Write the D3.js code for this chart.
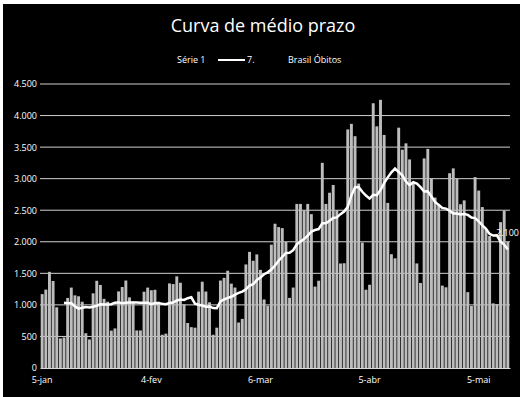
<!DOCTYPE html>
<html>
<head>
<meta charset="utf-8">
<script src="https://cdn.jsdelivr.net/npm/d3@7"></script>
<style>
  body { margin: 0; background: #fff; }
  svg { display: block; }
  text { font-family: 'Open Sans', sans-serif; fill: #fff; }
</style>
</head>
<body>
<svg id="chart"></svg>
<script>
const width = 520;
const height = 397;

// daily deaths, 5-jan .. 13-mai
const jan = [1171,1242,1524,1379,962,469,484,1110,1274,1151,1136,1050,551,452,1183,1382,1316,1096,1050,592,627,1214,1283,1386,1119,1054,595];
const fev = [595,1209,1274,1232,1239,1051,527,544,1340,1330,1452,1351,1009,713,647,639,1210,1367,1212,1041,527,639,1386,1428,1541,1337,1275,721];
const mar = [778,1641,1840,1699,1800,1555,1086,987,1954,2286,2233,2216,1997,1111,1275,2600,2600,2500,2600,2438,1290,1383,3251,2600,2777,2900,2500,1656,1660,3780,3869];
const abr = [3673,2922,1987,1240,1319,4195,3829,4249,3693,2616,1803,1738,3808,3459,3560,3305,2929,1657,1347,3321,3472,3000,2700,2600,1305,1279,3086,3163,3001,2595];
const mai = [2656,1202,983,3025,2811,2550,2202,2091,1024,1011,2311,2494,2000];
const deaths = jan.concat(fev, mar, abr, mai);

const tickDays = [0, 30, 60, 90, 120];
const tickLabels = ['5-jan', '4-fev', '6-mar', '5-abr', '5-mai'];
const yTicks = [0, 500, 1000, 1500, 2000, 2500, 3000, 3500, 4000, 4500];
const period = 7;
const endLabel = '2.100';

const br = d3.formatLocale({decimal: ',', thousands: '.', grouping: [3], currency: ['R$', '']});
const fmt = br.format(',d');

const svg = d3.select('#chart').attr('width', width).attr('height', height);

svg.append('rect')
    .attr('x', 3).attr('y', 4)
    .attr('width', width - 3).attr('height', height - 4)
    .attr('fill', '#000');

const x = d3.scaleBand().domain(d3.range(deaths.length)).range([40, 510]).padding(0.2);
const y = d3.scaleLinear().domain([0, 4500]).range([368, 84]);

// grid
svg.append('g')
    .selectAll('line')
    .data(yTicks.slice(1))
    .enter().append('line')
    .attr('x1', 40).attr('x2', 510)
    .attr('y1', d => y(d)).attr('y2', d => y(d))
    .attr('stroke', '#d0d0d0')
    .attr('stroke-width', 1);

// bars
svg.append('g')
    .selectAll('rect')
    .data(deaths)
    .enter().append('rect')
    .attr('x', (d, i) => x(i))
    .attr('width', x.bandwidth())
    .attr('y', d => y(d))
    .attr('height', d => y(0) - y(d))
    .attr('fill', '#bdbdbd');

// 7 period moving average (excel trendline)
const avg = deaths.map((d, i) => i < period - 1 ? null : d3.mean(deaths.slice(i - period + 1, i + 1)));
const line = d3.line()
    .defined(d => d != null)
    .x((d, i) => x(i) + x.bandwidth() / 2)
    .y(d => y(d));

svg.append('path')
    .datum(avg)
    .attr('fill', 'none')
    .attr('stroke', '#fff')
    .attr('stroke-width', 2.5)
    .attr('d', line);

// axes
const yAxis = svg.append('g')
    .attr('transform', 'translate(37,0)')
    .call(d3.axisLeft(y).tickValues(yTicks).tickFormat(fmt).tickSize(0));
yAxis.select('.domain').remove();
yAxis.selectAll('text').attr('fill', '#fff').style('font-size', '9px').attr('x', 0);

const xAxis = svg.append('g')
    .attr('transform', `translate(0, ${y(0)})`)
    .call(d3.axisBottom(x).tickValues(tickDays).tickFormat((d, i) => tickLabels[i]).tickSize(0));
xAxis.select('.domain').attr('stroke', '#d9d9d9');
xAxis.selectAll('text').attr('fill', '#fff').style('font-size', '9px').attr('y', 9).attr('dy', '0.71em');

// end label
svg.append('text')
    .attr('x', 519).attr('y', 236)
    .attr('text-anchor', 'end')
    .style('font-size', '9px')
    .text(endLabel);

// title
svg.append('text')
    .attr('x', 263).attr('y', 32)
    .attr('text-anchor', 'middle')
    .style('font-size', '18px')
    .text('Curva de médio prazo');

// legend
const legend = svg.append('g').style('font-size', '9px');
legend.append('text').attr('x', 177).attr('y', 63).text('Série 1');
legend.append('line')
    .attr('x1', 218).attr('x2', 245).attr('y1', 60).attr('y2', 60)
    .attr('stroke', '#fff').attr('stroke-width', 2);
legend.append('text').attr('x', 247).attr('y', 63).text('7.');
legend.append('text').attr('x', 288).attr('y', 63).text('Brasil Óbitos');
</script>
</body>
</html>
